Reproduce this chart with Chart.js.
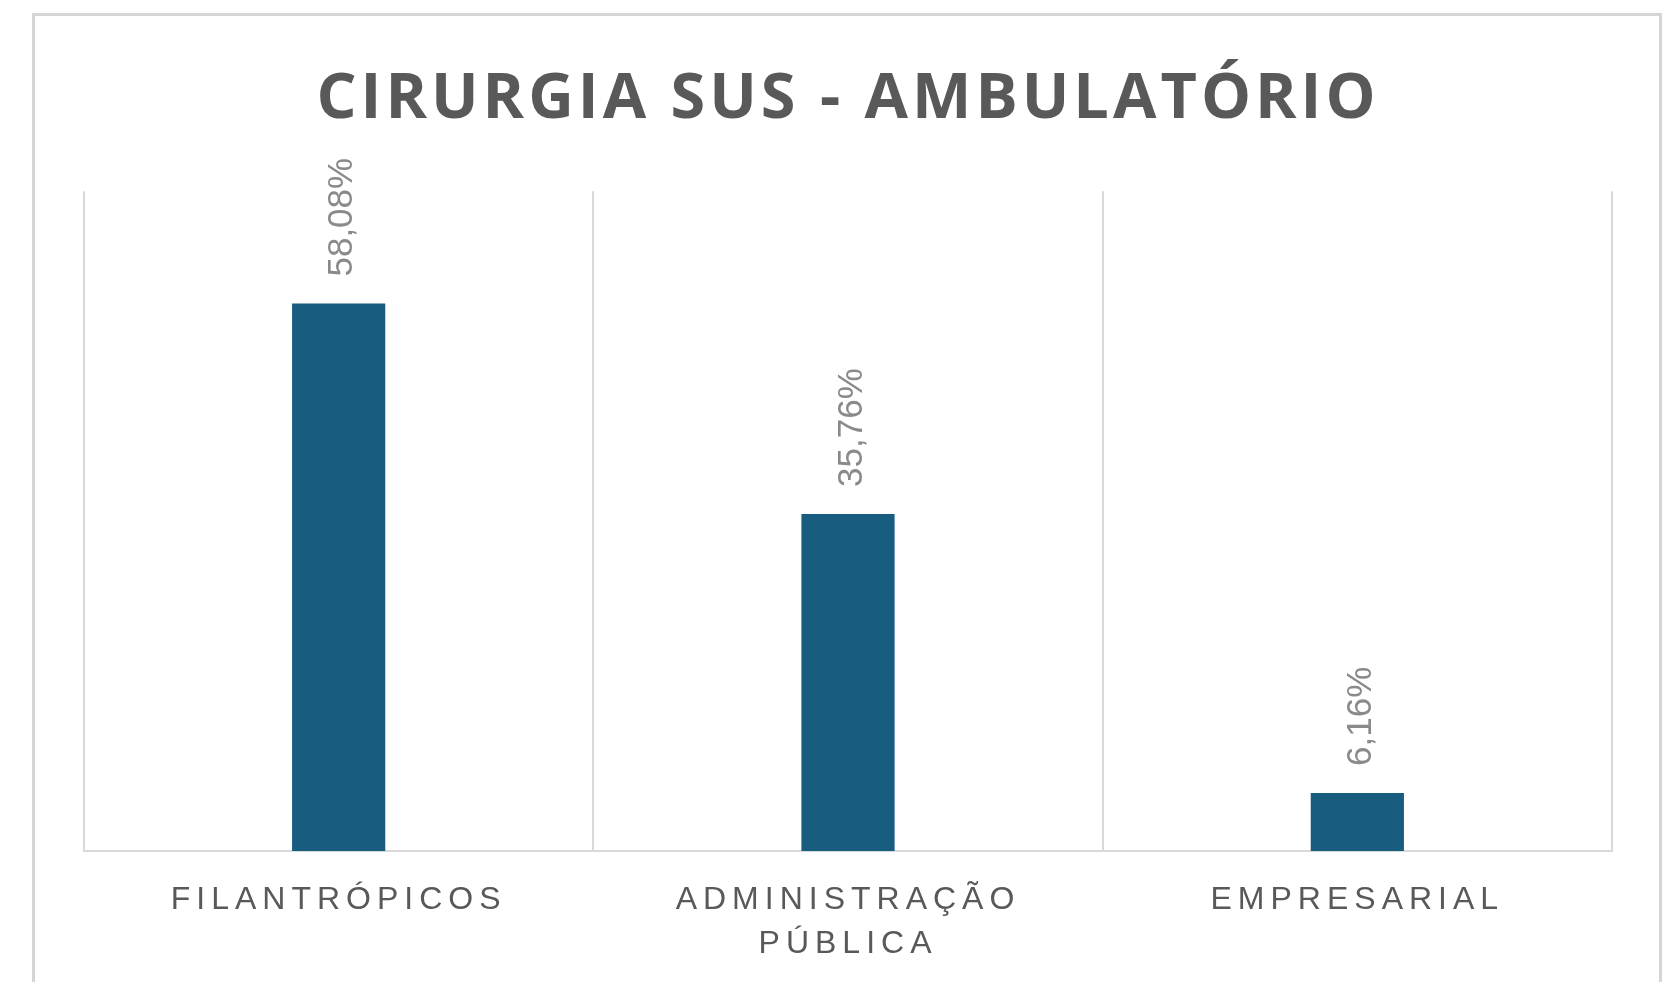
<!DOCTYPE html>
<html>
<head>
<meta charset="utf-8">
<script src="https://cdn.jsdelivr.net/npm/chart.js@4"></script>
<style>
html, body { margin: 0; padding: 0; background: #ffffff; overflow: hidden; width: 1669px; height: 982px; }
#frame { position: absolute; left: 32px; top: 13px; width: 1624px; height: 1000px; border: 3px solid #d6d6d6; }
#wrap { position: absolute; left: 0; top: 0; width: 1669px; height: 1012px; }
</style>
</head>
<body>
<div id="frame"></div>
<div id="wrap"><canvas id="c"></canvas></div>
<script>
// ---- data ----
const categories = ['FILANTRÓPICOS', ['ADMINISTRAÇÃO', 'PÚBLICA'], 'EMPRESARIAL'];
const values = [58.08, 35.76, 6.16];
const valueLabels = ['58,08%', '35,76%', '6,16%'];
const yMin = 0;
const yMax = 70;
const chartTitle = 'CIRURGIA SUS - AMBULATÓRIO';

const spacingPlugin = {
  id: 'spacing',
  beforeDraw(chart) {
    chart.ctx.letterSpacing = '4px';
    const s = chart.scales.x;
    if (!s.__wrapped) {
      const orig = s.drawLabels.bind(s);
      s.drawLabels = function (area) {
        const ctx = chart.ctx;
        const prev = ctx.letterSpacing;
        ctx.letterSpacing = '6px';
        orig(area);
        ctx.letterSpacing = prev;
      };
      s.__wrapped = true;
    }
  },
  afterDatasetsDraw(chart) {
    const ctx = chart.ctx;
    ctx.save();
    ctx.letterSpacing = '0px';
    const meta = chart.getDatasetMeta(0);
    meta.data.forEach((bar, i) => {
      ctx.save();
      ctx.translate(bar.x + 4, bar.y - 27);
      ctx.rotate(-Math.PI / 2);
      ctx.font = '35px "Liberation Sans", Arial, sans-serif';
      ctx.fillStyle = '#8a8a8a';
      ctx.textAlign = 'left';
      ctx.textBaseline = 'middle';
      ctx.fillText(valueLabels[i], 0, 0);
      ctx.restore();
    });
    ctx.restore();
  }
};

new Chart(document.getElementById('c'), {
  type: 'bar',
  data: {
    labels: categories,
    datasets: [{
      data: values,
      backgroundColor: '#185d80',
      borderWidth: 0,
      barPercentage: 0.183,
      categoryPercentage: 1
    }]
  },
  options: {
    responsive: true,
    maintainAspectRatio: false,
    animation: false,
    layout: { padding: { left: 84, right: 57, top: 20, bottom: 18 } },
    plugins: {
      legend: { display: false },
      tooltip: { enabled: false },
      title: {
        display: true,
        text: chartTitle,
        color: '#595959',
        font: { family: '"Open Sans", sans-serif', size: 63, weight: '700', lineHeight: 1.257 },
        padding: { top: 40, bottom: 52 }
      }
    },
    scales: {
      x: {
        grid: { display: true, offset: true, color: '#d9d9d9', lineWidth: 2, drawTicks: false },
        border: { display: true, color: '#d9d9d9', width: 2 },
        ticks: {
          color: '#595959',
          padding: 27.5,
          autoSkip: false,
          maxRotation: 0,
          font: { family: '"Liberation Sans", Arial, sans-serif', size: 32, lineHeight: 1.375 }
        }
      },
      y: { display: false, min: yMin, max: yMax }
    }
  },
  plugins: [spacingPlugin]
});
</script>
</body>
</html>
